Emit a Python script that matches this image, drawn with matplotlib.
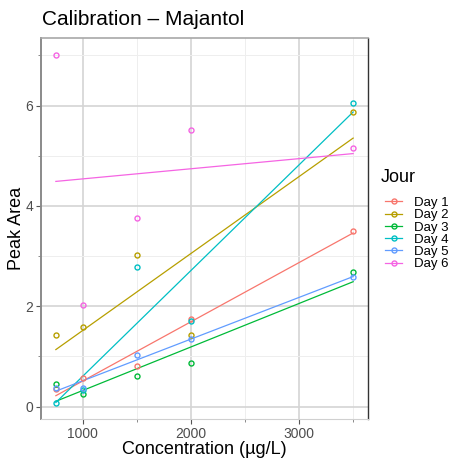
import numpy as np
import matplotlib
matplotlib.use("Agg")
import matplotlib.pyplot as plt
from matplotlib.ticker import MultipleLocator

plt.rcParams["font.family"] = ["Liberation Sans", "DejaVu Sans"]

# concentrations (µg/L) and peak areas per day
conc = [750, 1000, 1500, 2000, 3500]
day1 = [0.35, 0.57, 0.81, 1.75, 3.51]
day2 = [1.42, 1.59, 3.03, 1.43, 5.88]
day3 = [0.45, 0.25, 0.62, 0.87, 2.68]
day4 = [0.07, 0.33, 2.79, 1.70, 6.05]
day5 = [0.37, 0.38, 1.02, 1.35, 2.58]
day6 = [7.00, 2.02, 3.75, 5.52, 5.16]

days = ["Day 1", "Day 2", "Day 3", "Day 4", "Day 5", "Day 6"]
series = [day1, day2, day3, day4, day5, day6]
colors = ["#F8766D", "#B79F00", "#00BA38", "#00BFC4", "#619CFF", "#F564E3"]

fig = plt.figure(figsize=(4.52, 4.62), dpi=100)
ax = fig.add_axes([0.0907, 0.0931, 0.7235, 0.8246])

x = np.array(conc, dtype=float)
xs = np.array([x.min(), x.max()])
for name, y, c in zip(days, series, colors):
    y = np.array(y)
    # linear fit per day, like geom_smooth(method = "lm")
    slope, icpt = np.polyfit(x, y, 1)
    ax.plot(xs, slope * xs + icpt, color=c, lw=0.9, zorder=3)
    ax.plot(x, y, ls="none", marker="o", ms=3.6, mfc="none", mec=c, mew=1.0, zorder=4)
    ax.plot([], [], color=c, lw=0.9, marker="o", ms=3.6, mfc="none", mec=c, label=name)

ax.set_xlim(612.5, 3637.5)
ax.set_ylim(-0.245, 7.345)
ax.xaxis.set_major_locator(MultipleLocator(1000))
ax.xaxis.set_minor_locator(MultipleLocator(500))
ax.yaxis.set_major_locator(MultipleLocator(2))
ax.yaxis.set_minor_locator(MultipleLocator(1))

ax.grid(which="major", color="#d4d4d4", lw=1.2, zorder=0)
ax.grid(which="minor", color="#eeeeee", lw=0.7, zorder=0)
ax.set_axisbelow(True)

ax.tick_params(which="major", length=3.5, width=0.8, color="#555555",
               labelsize=10, labelcolor="#4d4d4d", pad=2)
ax.tick_params(which="minor", length=2, width=0.6, color="#777777")

ax.spines["left"].set_color("#8a8a8a")
ax.spines["left"].set_linewidth(1.4)
ax.spines["top"].set_color("#a8a8a8")
ax.spines["top"].set_linewidth(1.2)
ax.spines["right"].set_color("#333333")
ax.spines["right"].set_linewidth(1.0)
ax.spines["bottom"].set_color("#d0d0d0")
ax.spines["bottom"].set_linewidth(0.8)

ax.set_xlabel("Concentration (µg/L)", fontsize=13, labelpad=0)
ax.set_ylabel("Peak Area", fontsize=13, labelpad=0)
fig.text(0.093, 0.957, "Calibration – Majantol", fontsize=15, ha="left", va="center")

# legend title drawn apart so the gap above the keys can be set
fig.text(0.843, 0.615, "Jour", fontsize=13, ha="left", va="center")
ax.legend(loc="upper left", bbox_to_anchor=(0.852, 0.574), bbox_transform=fig.transFigure,
          frameon=False, fontsize=9.5, labelspacing=0.0, borderpad=0,
          handlelength=1.3, handletextpad=0.9, borderaxespad=0)

fig.savefig("out.png", dpi=100)
